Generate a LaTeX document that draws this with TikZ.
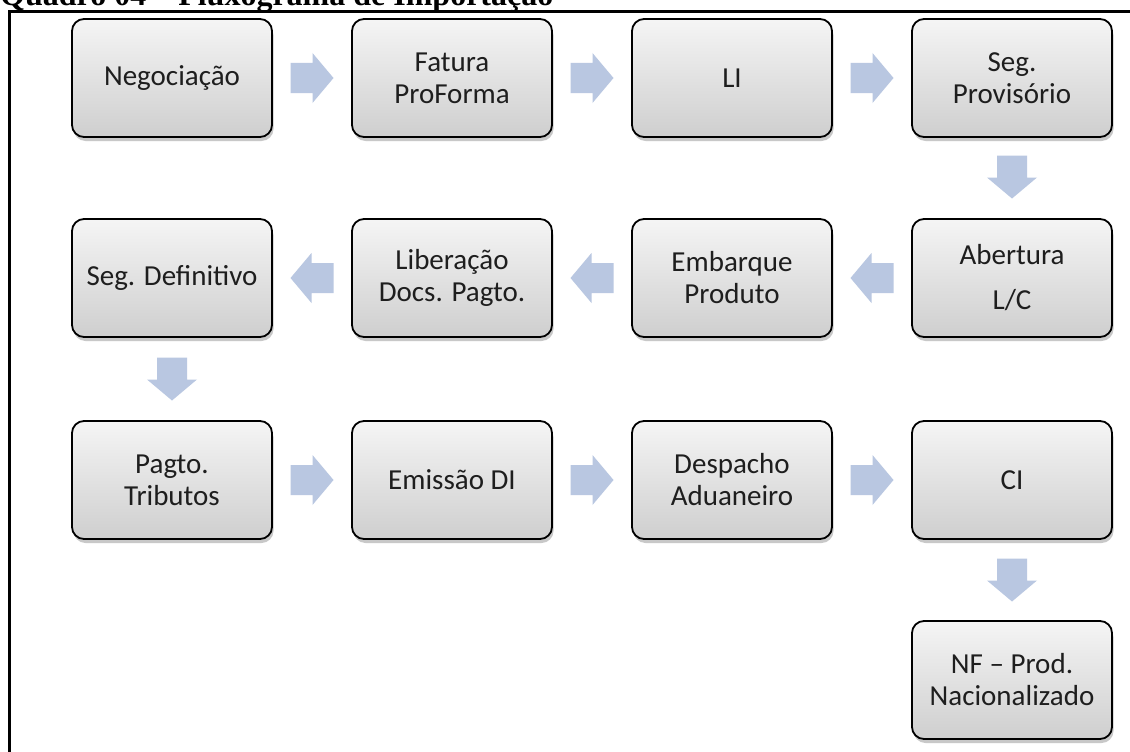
\documentclass[tikz,border=0pt]{standalone}
\usepackage{fontspec}
\setmainfont{Carlito}
\newfontfamily\titlefont{Liberation Serif}
\usetikzlibrary{shadows,calc}
\definecolor{arrowc}{RGB}{185,199,225}
\definecolor{txtc}{RGB}{30,30,30}
\tikzset{
  stepbox/.style={rectangle, rounded corners=12pt, draw=black, line width=1.8pt,
    minimum width=200pt, minimum height=118pt, inner sep=2pt,
    top color=gray!8, bottom color=gray!38, align=center, text=txtc,
    font=\fontsize{29}{32}\selectfont,
    drop shadow={shadow xshift=1.5pt, shadow yshift=-4pt, opacity=0.3, fill=black!70}},
  blkarrow/.pic={\fill[arrowc] (-21.5,-15) -- (0.5,-15) -- (0.5,-25) -- (21.5,0)
      -- (0.5,25) -- (0.5,15) -- (-21.5,15) -- cycle;},
  frameline/.style={line width=3pt, black}
}
\begin{document}
\begin{tikzpicture}[x=1pt,y=-1pt]
\useasboundingbox (0,0) rectangle (1130,752);
\fill[white] (0,0) rectangle (1130,752);
\node[anchor=base west, font=\titlefont\bfseries\fontsize{32}{36}\selectfont, inner sep=0pt] (title) at (0,6) {Quadro 04 – Fluxograma de Importação};
\coordinate (fa) at (9.5,760);
\coordinate (fb) at (9.5,11.5);
\coordinate (fc) at (1140,11.5);
\draw[frameline] (fa) -- (fb) -- (fc);
% row 1
\node[stepbox] (n1) at (172,78) {Negociação};
\node[stepbox] (n2) at (452,78) {Fatura\\ProForma};
\node[stepbox] (n3) at (732,78) {LI};
\node[stepbox] (n4) at (1012,78) {Seg.\\Provisório};
% row 2
\node[stepbox, font=\fontsize{29}{45}\selectfont] (n5) at (1012,278) {Abertura\\L/C};
\node[stepbox] (n6) at (732,278) {Embarque\\Produto};
\node[stepbox] (n7) at (452,278) {Liberação\\Docs. Pagto.};
\node[stepbox] (n8) at (172,278) {Seg. Definitivo};
% row 3
\node[stepbox] (n9) at (172,480) {Pagto.\\Tributos};
\node[stepbox] (n10) at (452,480) {Emissão DI};
\node[stepbox] (n11) at (732,480) {Despacho\\Aduaneiro};
\node[stepbox] (n12) at (1012,480) {CI};
% row 4
\node[stepbox] (n13) at (1012,680) {NF – Prod.\\Nacionalizado};
% arrows
\path ($(n1.east)!0.5!(n2.west)$) pic (a1) {blkarrow};
\path ($(n2.east)!0.5!(n3.west)$) pic (a2) {blkarrow};
\path ($(n3.east)!0.5!(n4.west)$) pic (a3) {blkarrow};
\path ($(n4.south)!0.5!(n5.north)+(0,-1)$) pic[rotate=-90] (a4) {blkarrow};
\path ($(n5.west)!0.5!(n6.east)$) pic[rotate=180] (a5) {blkarrow};
\path ($(n6.west)!0.5!(n7.east)$) pic[rotate=180] (a6) {blkarrow};
\path ($(n7.west)!0.5!(n8.east)$) pic[rotate=180] (a7) {blkarrow};
\path ($(n8.south)!0.5!(n9.north)$) pic[rotate=-90] (a8) {blkarrow};
\path ($(n9.east)!0.5!(n10.west)$) pic (a9) {blkarrow};
\path ($(n10.east)!0.5!(n11.west)$) pic (a10) {blkarrow};
\path ($(n11.east)!0.5!(n12.west)$) pic (a11) {blkarrow};
\path ($(n12.south)!0.5!(n13.north)$) pic[rotate=-90] (a12) {blkarrow};
\end{tikzpicture}
\end{document}
